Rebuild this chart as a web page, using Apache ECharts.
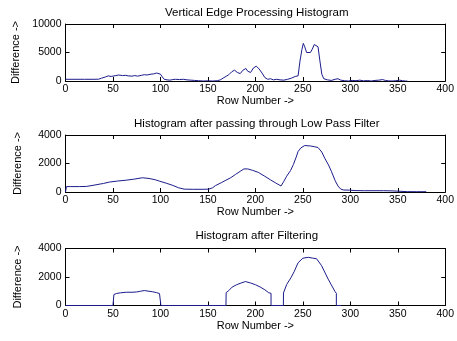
<!DOCTYPE html>
<html>
<head>
<meta charset="utf-8">
<script src="https://cdn.jsdelivr.net/npm/echarts@6/dist/echarts.min.js"></script>
<style>
  html, body { margin: 0; padding: 0; background: #fff; }
  #chart { width: 457px; height: 341px; }
</style>
</head>
<body>
<div id="chart"></div>
<script>
// Vertical edge histogram
const rowsEdge = [0, 2, 10, 20, 30, 35, 38, 42, 45, 48, 50, 53, 56, 60, 63, 66, 70, 73, 76, 80, 83, 86, 90, 93, 96, 98, 100, 102, 104, 107, 110, 113, 116, 120, 124, 128, 132, 136, 140, 145, 150, 155, 160, 163, 166, 169, 172, 175, 178, 181, 184, 187, 190, 192, 195, 198, 201, 204, 207, 210, 213, 216, 219, 222, 226, 230, 234, 238, 242, 245, 247, 249, 250.5, 252, 254, 256, 258, 260, 262, 264, 266, 268, 270, 272, 276, 280, 284, 287, 290, 294, 298, 302, 306, 310, 314, 318, 322, 326, 330, 334, 337, 340, 344, 348, 352, 355, 358, 360];
const diffEdge = [300, 320, 300, 300, 300, 320, 500, 700, 900, 800, 1000, 950, 1050, 950, 1000, 900, 850, 950, 850, 1000, 1100, 1050, 1200, 1250, 1400, 1350, 1200, 700, 300, 200, 150, 250, 300, 250, 300, 200, 150, 100, 50, 0, 30, 0, 50, 200, 500, 800, 1100, 1600, 1900, 1500, 1300, 1900, 2200, 1700, 1500, 2300, 2600, 2100, 1400, 600, 300, 400, 200, 300, 200, 150, 300, 500, 800, 900, 3500, 5500, 6600, 6000, 5000, 4900, 5000, 5600, 6400, 6700, 6000, 3500, 1200, 400, 200, 100, 300, 400, 150, 50, 0, 100, 50, 150, 30, 80, 0, 100, 150, 250, 100, 30, 0, 50, 150, 50, 0, 0];

// After low pass filter
const rowsLpf = [0, 1, 5, 15, 22, 30, 40, 46.5, 55, 64, 72, 81, 88, 95, 99, 106, 113, 119, 125, 135, 145, 151, 155, 158, 164, 169, 174, 179, 184, 188, 192, 197, 203, 210, 216, 221, 227, 230, 233, 237, 240, 243, 245, 248, 252, 258, 262, 266, 270, 273, 277, 280, 284, 287, 290, 293, 299, 305, 315, 325, 335, 344, 346, 360, 370, 380];
const diffLpf = [0, 380, 380, 380, 390, 480, 600, 700, 770, 830, 900, 1000, 950, 850, 760, 620, 465, 300, 200, 190, 190, 200, 300, 450, 650, 830, 1000, 1230, 1450, 1620, 1620, 1520, 1380, 1100, 850, 650, 420, 750, 1110, 1500, 1920, 2450, 2840, 3100, 3260, 3230, 3180, 3120, 2800, 2380, 1900, 1460, 800, 420, 200, 140, 130, 100, 90, 90, 90, 80, 30, 25, 20, 20];

// After filtering (only the three bands kept)
const rowsFilt = [0, 50, 51, 53.5, 58, 64, 70, 75, 79, 83, 88, 92, 96, 99, 100.5, 100.5, 169, 169.2, 172, 175.5, 180, 185, 189.5, 195, 200, 205, 210, 214, 216.5, 216.5, 229.5, 229.6, 233, 237.6, 241, 245, 250, 255.8, 260, 264.5, 269.7, 273, 276.7, 280, 283.7, 285.3, 285.3, 290];
const diffFilt = [0, 0, 770, 840, 890, 930, 930, 950, 1000, 1050, 1000, 960, 900, 840, 800, 0, 0, 900, 1050, 1290, 1450, 1580, 1680, 1580, 1460, 1300, 1100, 900, 850, 0, 0, 880, 1480, 1960, 2400, 3000, 3320, 3380, 3330, 3280, 2800, 2350, 1850, 1450, 1000, 850, 0, 0];

const titles = ['Vertical Edge Processing Histogram', 'Histogram after passing through Low Pass Filter', 'Histogram after Filtering'];
const yMaxes = [10000, 4000, 4000];
const yIntervals = [5000, 2000, 2000];

const chart = echarts.init(document.getElementById('chart'));
const font = "'Liberation Sans', Arial, sans-serif";
const lineColor = '#1c1c8c';

const tops = [24, 135, 248.5];
const titleTops = [7, 118, 229.5];
const plotH = 57;

const grids = tops.map(t => ({ left: 65.5, right: 9, top: t, height: plotH, containLabel: false }));

// negative length flips the ticks into the plot box, like MATLAB
const tick = { show: true, inside: false, length: -4, lineStyle: { color: '#000', width: 1 } };
const plain = v => String(v);

const xAxes = [];
const yAxes = [];
tops.forEach((t, i) => {
  xAxes.push({
    type: 'value', gridIndex: i, min: 0, max: 400, interval: 50,
    name: 'Row Number ->', nameLocation: 'middle', nameGap: 10,
    nameTextStyle: { color: '#000', fontSize: 11, fontFamily: font },
    axisLine: { onZero: false, lineStyle: { color: '#000', width: 1 } },
    axisTick: tick,
    axisLabel: { color: '#000', fontSize: 10.5, fontFamily: font, margin: 3, formatter: plain },
    splitLine: { show: false },
  });
  xAxes.push({
    type: 'value', gridIndex: i, position: 'top', min: 0, max: 400, interval: 50,
    axisLine: { onZero: false, lineStyle: { color: '#000', width: 1 } },
    axisTick: tick,
    axisLabel: { show: false },
    splitLine: { show: false },
  });
  yAxes.push({
    type: 'value', gridIndex: i, min: 0, max: yMaxes[i], interval: yIntervals[i],
    name: 'Difference ->', nameLocation: 'middle', nameGap: 42,
    nameTextStyle: { color: '#000', fontSize: 11, fontFamily: font },
    axisLine: { show: true, onZero: false, lineStyle: { color: '#000', width: 1 } },
    axisTick: tick,
    axisLabel: { color: '#000', fontSize: 10.5, fontFamily: font, margin: 4, formatter: plain },
    splitLine: { show: false },
  });
  yAxes.push({
    type: 'value', gridIndex: i, position: 'right', min: 0, max: yMaxes[i], interval: yIntervals[i],
    axisLine: { show: true, onZero: false, lineStyle: { color: '#000', width: 1 } },
    axisTick: tick,
    axisLabel: { show: false },
    splitLine: { show: false },
  });
});

const pairs = (xs, ys) => xs.map((x, k) => [x, ys[k]]);
const seriesData = [pairs(rowsEdge, diffEdge), pairs(rowsLpf, diffLpf), pairs(rowsFilt, diffFilt)];

const option = {
  backgroundColor: '#fff',
  animation: false,
  title: titles.map((txt, i) => ({
    text: txt,
    left: 256.75,
    top: titleTops[i],
    textAlign: 'center',
    padding: 0,
    textStyle: { color: '#000', fontSize: 11.5, fontWeight: 'normal', fontFamily: font },
  })),
  grid: grids,
  xAxis: xAxes,
  yAxis: yAxes,
  series: seriesData.map((d, i) => ({
    type: 'line',
    xAxisIndex: i * 2,
    yAxisIndex: i * 2,
    data: d,
    showSymbol: false,
    lineStyle: { color: lineColor, width: 1 },
    itemStyle: { color: lineColor },
  })),
};

chart.setOption(option);
</script>
</body>
</html>
